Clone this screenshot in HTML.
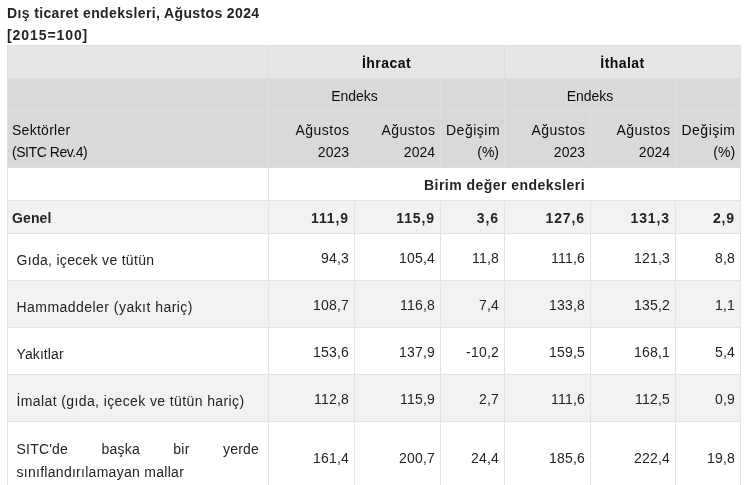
<!DOCTYPE html>
<html lang="tr">
<head>
<meta charset="utf-8">
<title>Dış ticaret endeksleri</title>
<style>
html,body{margin:0;padding:0;background:#fff;}
body{width:750px;height:485px;overflow:hidden;font-family:"Liberation Sans",sans-serif;font-size:14px;line-height:22.4px;color:#212529;}
.title{position:absolute;left:7px;top:2px;font-weight:bold;white-space:nowrap;letter-spacing:.37px;}
.title div{height:22.4px;}
table{position:absolute;left:7px;top:45px;width:734px;border-collapse:collapse;table-layout:fixed;}
td{box-sizing:border-box;padding:2px 5px 0 5px;border:1px solid #dedede;vertical-align:middle;text-align:right;overflow:hidden;}
tr.h1 td{background:#e6e6e6;height:33px;text-align:center;font-weight:bold;letter-spacing:.45px;}
tr.h2 td{background:#d9d9d9;height:33px;text-align:center;}
tr.h3 td{background:#d9d9d9;height:56px;line-height:22px;padding-top:2px;}
tr.b td{border-color:#e4e4e4;}
tr.h1 td,tr.h2 td,tr.h3 td{color:#0c0c0c;}
tr.sub td{height:33px;text-align:center;font-weight:bold;background:#fff;letter-spacing:.46px;}
tr.gen td{height:33px;font-weight:bold;background:#f2f2f2;letter-spacing:.9px;}
tr.r td{height:47px;letter-spacing:.2px;}
tr.s td{background:#f2f2f2;}
tr.last td{height:71px;}
td.l{text-align:left;padding-left:4px;}
td.lab{text-align:left;letter-spacing:0;padding:7px 9px 0 8.5px;white-space:nowrap;}
.ls5{letter-spacing:.5px;margin-right:-.5px;}
.lsn{letter-spacing:-.45px;}
.ls3{letter-spacing:.27px;}
</style>
</head>
<body>
<div class="title"><div>Dış ticaret endeksleri, Ağustos 2024</div><div style="letter-spacing:.92px">[2015=100]</div></div>
<table>
<colgroup><col style="width:261px"><col style="width:86px"><col style="width:86px"><col style="width:64px"><col style="width:86px"><col style="width:85px"><col style="width:65px"></colgroup>
<tr class="h1"><td></td><td colspan="3">İhracat</td><td colspan="3">İthalat</td></tr>
<tr class="h2"><td></td><td colspan="2">Endeks</td><td></td><td colspan="2">Endeks</td><td></td></tr>
<tr class="h3"><td class="l"><span class="ls3">Sektörler</span><br><span class="lsn">(SITC Rev.4)</span></td><td><span class="ls5">Ağustos</span><br>2023</td><td><span class="ls5">Ağustos</span><br>2024</td><td><span class="ls5">Değişim</span><br>(%)</td><td><span class="ls5">Ağustos</span><br>2023</td><td><span class="ls5">Ağustos</span><br>2024</td><td><span class="ls5">Değişim</span><br>(%)</td></tr>
<tr class="b sub"><td></td><td colspan="6">Birim değer endeksleri</td></tr>
<tr class="b gen"><td class="l" style="letter-spacing:.1px">Genel</td><td>111,9</td><td>115,9</td><td>3,6</td><td>127,6</td><td>131,3</td><td>2,9</td></tr>
<tr class="b r"><td class="lab"><span style="letter-spacing:0.3px">Gıda, içecek ve tütün</span></td><td>94,3</td><td>105,4</td><td>11,8</td><td>111,6</td><td>121,3</td><td>8,8</td></tr>
<tr class="b r s"><td class="lab"><span style="letter-spacing:0.46px">Hammaddeler (yakıt hariç)</span></td><td>108,7</td><td>116,8</td><td>7,4</td><td>133,8</td><td>135,2</td><td>1,1</td></tr>
<tr class="b r"><td class="lab"><span style="letter-spacing:0.1px">Yakıtlar</span></td><td>153,6</td><td>137,9</td><td>-10,2</td><td>159,5</td><td>168,1</td><td>5,4</td></tr>
<tr class="b r s"><td class="lab"><span style="letter-spacing:0.39px">İmalat (gıda, içecek ve tütün hariç)</span></td><td>112,8</td><td>115,9</td><td>2,7</td><td>111,6</td><td>112,5</td><td>0,9</td></tr>
<tr class="b r last"><td class="lab" style="text-align:justify;white-space:normal">SITC'de başka bir yerde <span style="letter-spacing:.28px">sınıflandırılamayan mallar</span></td><td>161,4</td><td>200,7</td><td>24,4</td><td>185,6</td><td>222,4</td><td>19,8</td></tr>
</table>
</body>
</html>
